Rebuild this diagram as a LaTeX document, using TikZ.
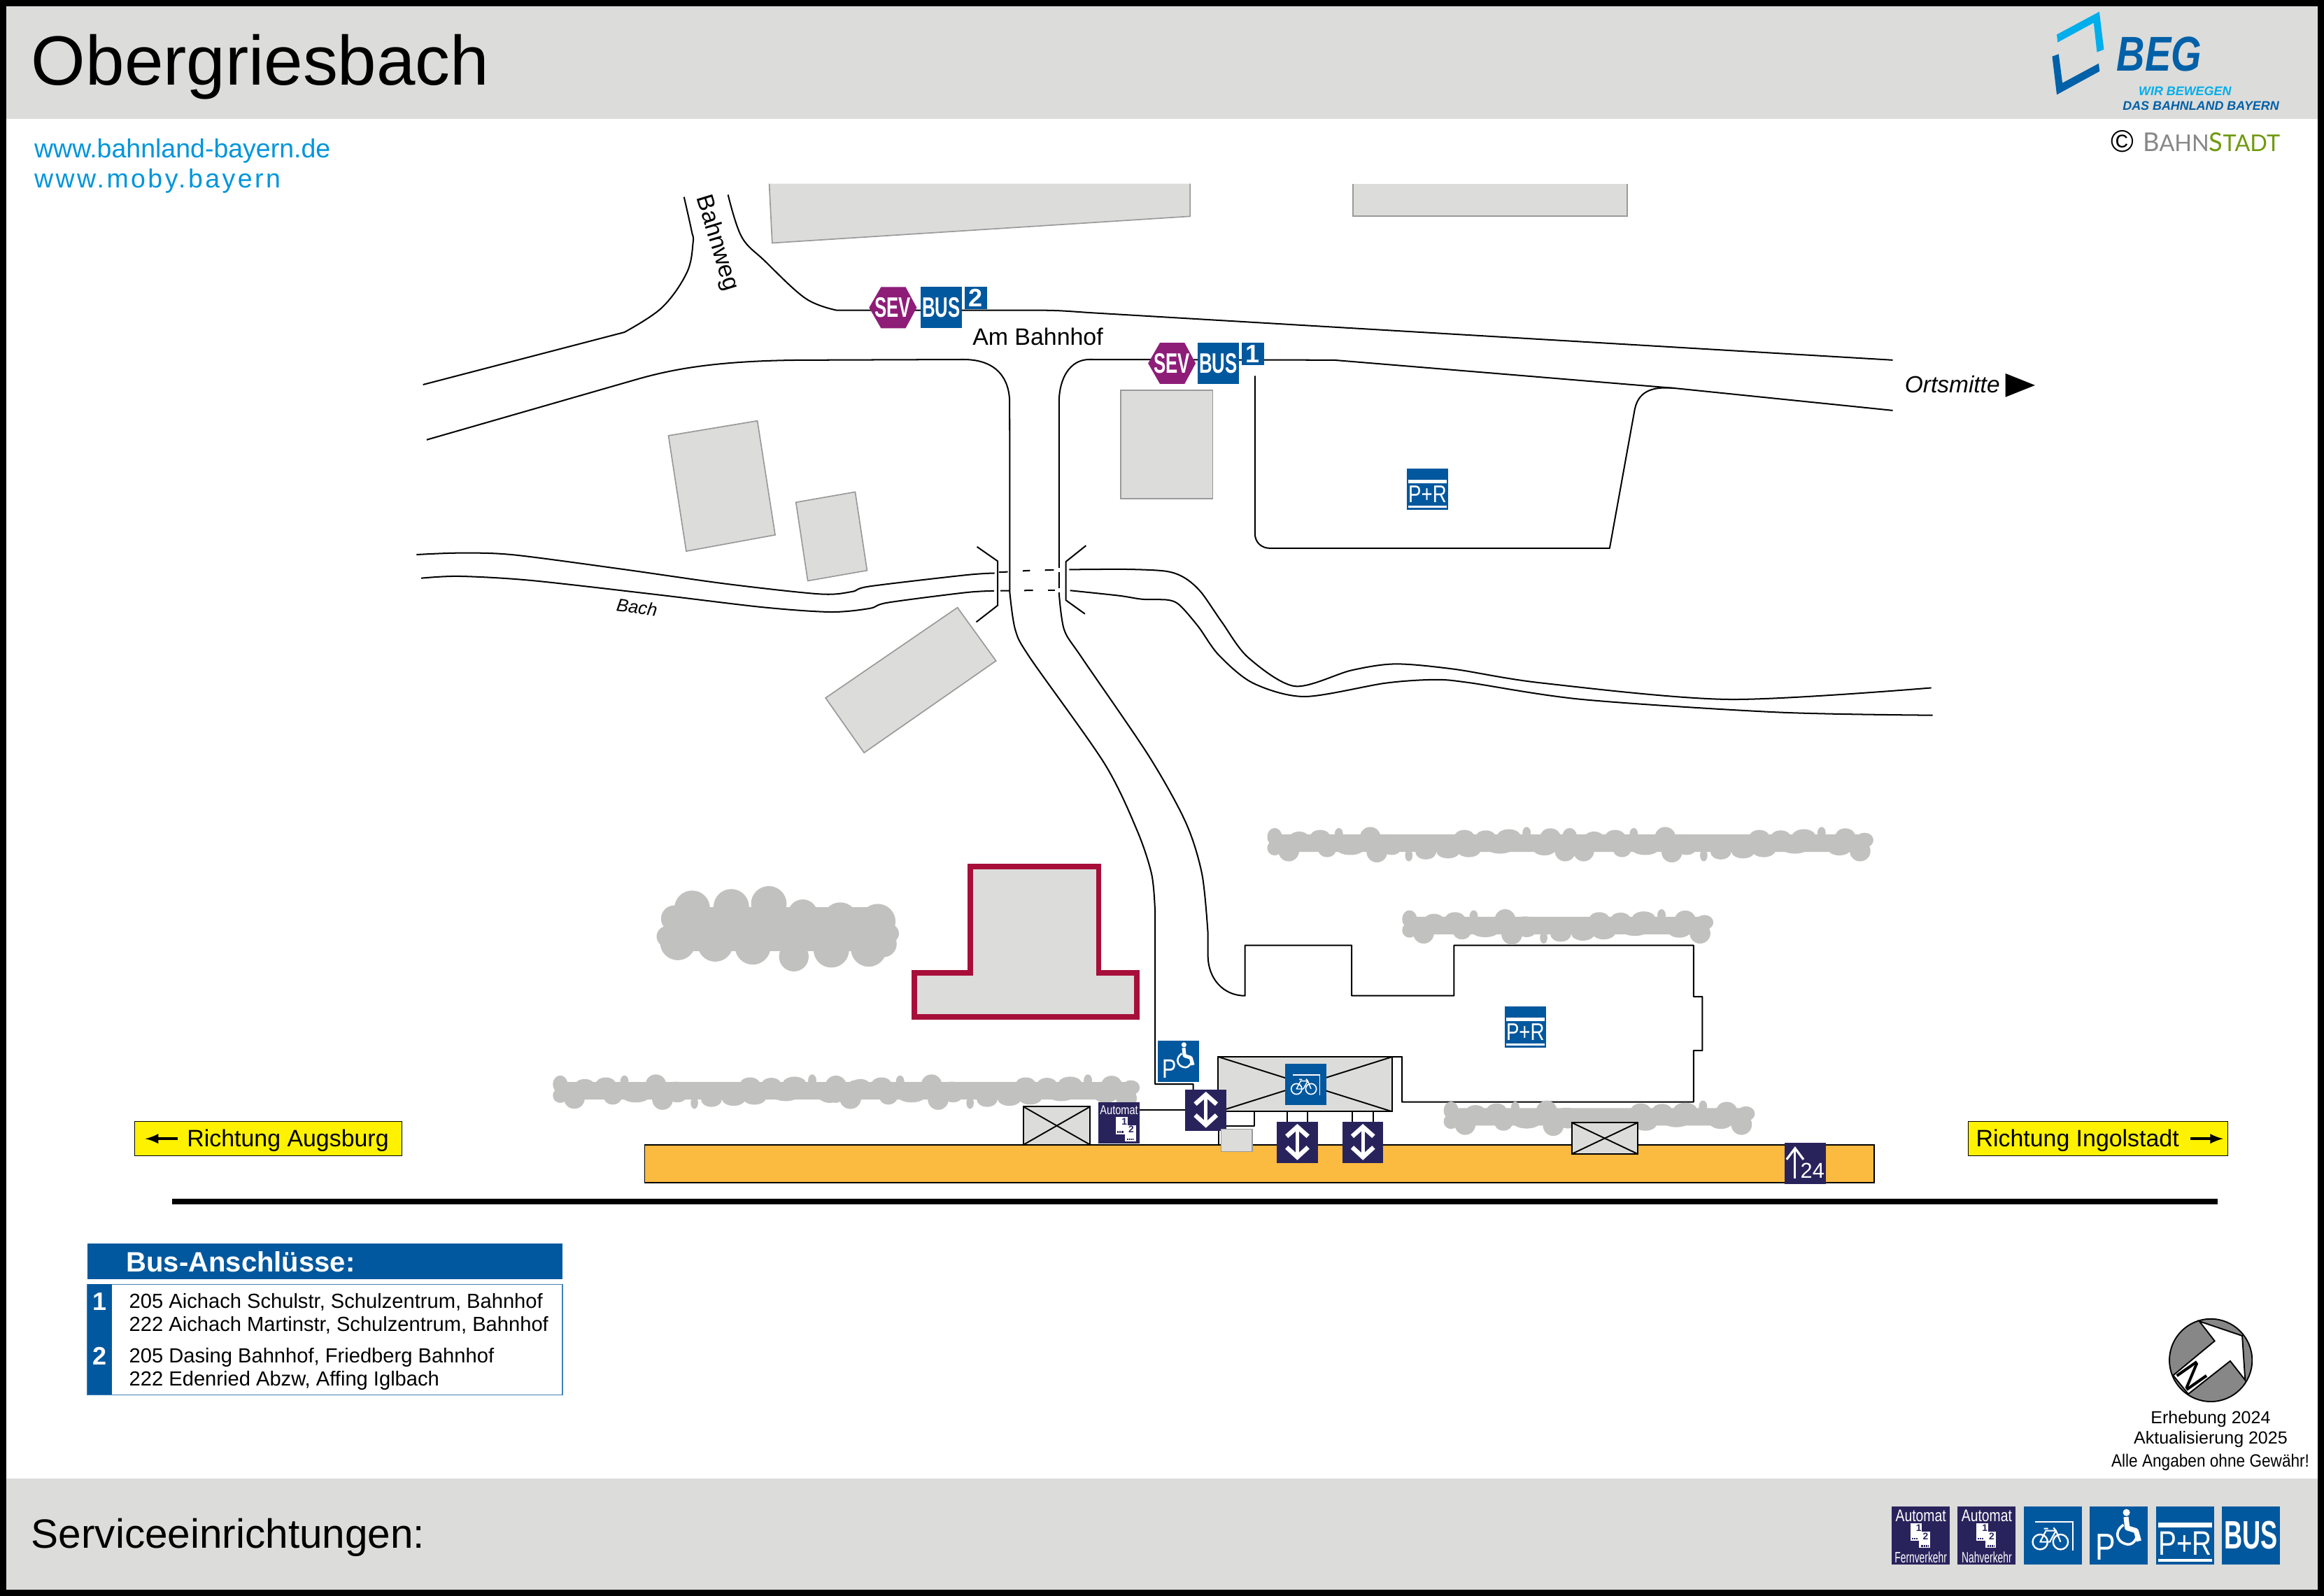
\documentclass[tikz,border=0pt]{standalone}
\usepackage{fontspec}
\setmainfont{Liberation Sans}
\newfontfamily\narrowfont[FakeStretch=.8]{Liberation Sans}
\newfontfamily\tightfont[FakeStretch=.89]{Liberation Sans}
\newfontfamily\slimfont[FakeStretch=.64]{Liberation Sans}
\newfontfamily\spacedfont[LetterSpace=9.2]{Liberation Sans}
\newfontfamily\stadtfont[FakeStretch=.98]{Lato}
\newcommand{\fsz}[1]{\fontsize{#1}{#1}\selectfont}
\newcommand{\glw}{1}

\definecolor{signblue}{HTML}{02589E}
\definecolor{signnavy}{HTML}{29235C}
\definecolor{sevpurple}{HTML}{8E1D78}
\definecolor{bandgray}{HTML}{DCDCDA}
\definecolor{edgegray}{HTML}{9A9A9A}
\definecolor{hedgegray}{HTML}{C1C1BF}
\definecolor{platform}{HTML}{FBBA40}
\definecolor{stationred}{HTML}{A70F3A}
\definecolor{linkblue}{HTML}{0095DB}
\definecolor{logolight}{HTML}{00AEEB}
\definecolor{logodark}{HTML}{0060A8}
\definecolor{stadtgreen}{HTML}{6F9A0F}
\definecolor{stadtgray}{HTML}{878787}

\tikzset{
    % Hecke, ein Stueck
    hedgeunit/.pic={
        \fill[hedgegray, rounded corners=3pt] (2,-6.8) rectangle (207,5);
        \fill[hedgegray] (5,-5.2) ellipse[x radius=5,y radius=6] (21.5,-3.8) ellipse[x radius=7,y radius=5]
            (35.7,-4.9) ellipse[x radius=7,y radius=5] (48.3,-7.2) ellipse[x radius=2.8,y radius=4]
            (69.5,-4.9) ellipse[x radius=7,y radius=7] (83,-3) ellipse[x radius=8,y radius=4]
            (133,-4.9) ellipse[x radius=7,y radius=5] (147.4,-4.6) ellipse[x radius=7,y radius=5]
            (163,-5.4) ellipse[x radius=8,y radius=5] (175,-7.9) ellipse[x radius=2.8,y radius=4]
            (191,-5) ellipse[x radius=7,y radius=6] (204,-3) ellipse[x radius=6,y radius=5]
            (5,2.3) ellipse[x radius=5,y radius=5] (14.5,4.3) ellipse[x radius=7,y radius=7]
            (40.4,3.5) ellipse[x radius=6,y radius=5] (56,3) ellipse[x radius=9,y radius=4]
            (74,5) ellipse[x radius=7,y radius=7] (84,3) ellipse[x radius=6,y radius=4]
            (95.5,7.3) ellipse[x radius=2.5,y radius=4] (107,5) ellipse[x radius=7,y radius=5]
            (122,4.3) ellipse[x radius=8,y radius=5] (136,3.5) ellipse[x radius=8,y radius=5]
            (157,2.1) ellipse[x radius=9,y radius=4] (172,.6) ellipse[x radius=7,y radius=4]
            (187,2.3) ellipse[x radius=8,y radius=5] (201,4.3) ellipse[x radius=7,y radius=7];
    },
    % Piktogramme, Ursprung oben links
    sevsign/.pic={
        \fill[sevpurple] (0,13.9) -- (8,0) -- (24.6,0) -- (32.1,13.9) -- (24.6,27.8) -- (8,27.8) -- cycle;
        \node[text=white, inner sep=0pt, font=\slimfont\bfseries\fsz{19}] (-label) at (16,14) {SEV};
    },
    liftglyph/.pic={
        \draw[white, line width=3pt] (6.8,9.8) -- (14,3.4) -- (21.2,9.8);
        \draw[white, line width=2.2pt] (14,3.4) -- (14,23.8);
        \draw[white, line width=3pt] (6.8,17.2) -- (14,23.8) -- (21.2,17.2);
    },
    ticketpair/.pic={
        \fill[white] (0,0) rectangle (8,11.6);
        \fill[white] (6,5.5) rectangle (13.5,16.5);
        \node[text=signnavy, inner sep=0pt, font=\bfseries\fsz{6.5}] (-one) at (5.8,3.2) {1};
        \node[text=signnavy, inner sep=0pt, font=\bfseries\fsz{6.5}] (-two) at (10.4,8.4) {2};
        \draw[signnavy, line width=1.1pt, dash pattern=on 1pt off .5pt] (1,10.2) -- (5,10.2);
        \draw[signnavy, line width=1.1pt, dash pattern=on 1pt off .5pt] (7.5,15.2) -- (12.3,15.2);
    },
    bikeglyph/.pic={
        \draw[white, line width=\glw*.7pt] (5.4,7.5) -- (23.4,7.5) -- (23.4,21.2);
        \draw[white, line width=\glw*.8pt] (7.8,17) circle[radius=3.6] (17.6,17) circle[radius=3.6];
        \draw[white, line width=\glw*.7pt, line join=round] (7.8,17) -- (10.6,11.6) -- (15.4,11.6) -- (12.4,17) -- cycle
            (15.4,11.6) -- (17.6,17) (9.6,10.6) -- (11.6,10.6) (14.2,10.2) -- (15.4,11.6);
    },
    wheelglyph/.pic={
        \node[text=white, inner sep=0pt, anchor=base west, transform shape, font=\narrowfont\fsz{18}] (-park) at (2.6,25.6) {P};
        \fill[white] (17.6,2.9) circle[radius=1.7];
        \draw[white, line width=\glw*2.4pt, line join=round] (17.4,5) -- (18,10.3) -- (22.2,11.6) -- (23.6,16.6);
        \draw[white, line width=\glw*1.2pt] plot[smooth, tension=.8] coordinates {(16.2,8.8) (13.7,11.6) (13.8,15.4) (17,17.9) (20.4,17.6) (22.4,15)};
    },
    prglyph/.pic={
        \fill[white] (1,7.8) rectangle (27,10);
        \fill[white] (1,25) rectangle (27,26.6);
        \node[text=white, inner sep=0pt, transform shape, font=\narrowfont\fsz{16.3}] (-label) at (14,17.6) {P+R};
    }
}

\begin{document}
\begin{tikzpicture}[x=1pt,y=-1pt]
    % Definizione stili
    \tikzstyle{building}=[draw=edgegray, fill=bandgray, line width=.8pt]
    \tikzstyle{road}=[line width=.95pt, line join=round]
    \tikzstyle{maptext}=[inner sep=0pt, anchor=base west]
    \tikzstyle{signbox}=[inner sep=0pt, outer sep=0pt, fill=signblue, minimum width=27.8pt, minimum height=27.8pt]
    \tikzstyle{busbox}=[signbox, text=white, font=\slimfont\bfseries\fsz{19}]
    \tikzstyle{numbox}=[inner sep=0pt, outer sep=0pt, fill=signblue, text=white, minimum width=15.3pt, minimum height=15.1pt, font=\bfseries\fsz{17}]
    \tikzstyle{navybox}=[signbox, fill=signnavy]
    \tikzstyle{crossbox}=[draw, fill=bandgray, line width=1pt, inner sep=0pt, outer sep=0pt, path picture={
        \draw[line width=.9pt] (path picture bounding box.north west) -- (path picture bounding box.south east);
        \draw[line width=.9pt] (path picture bounding box.south west) -- (path picture bounding box.north east);}]
    \tikzstyle{dirbox}=[draw, line width=.5pt, fill=yellow, inner sep=0pt, minimum height=23pt]

    \useasboundingbox (0,0) rectangle (1568,1077.1);

    % Baender oben und unten
    \fill[bandgray] (0,0) rectangle (1568,80);
    \fill[bandgray] (0,998) rectangle (1568,1077);
    \node[maptext, font=\fsz{47.1}] (title) at (21,57.5) {Obergriesbach};
    \node[maptext, font=\fsz{27.6}] (service_title) at (21,1045) {Serviceeinrichtungen:};
    \node[maptext, text=linkblue, font=\fsz{17.7}] (link_beg) at (23,106.5) {www.bahnland-bayern.de};
    \node[maptext, text=linkblue, font=\spacedfont\fsz{17.7}] (link_moby) at (23,126.5) {www.moby.bayern};

    % Logo
    \fill[logolight] (1387.7,23.3) -- (1416.4,7.9) -- (1419.5,33.4) -- (1414.8,35.2) -- (1412.6,15.4) -- (1388.3,28.6) -- cycle;
    \fill[logodark] (1384.6,38.1) -- (1389,36.5) -- (1391.5,56) -- (1416,42.8) -- (1416.6,48.1) -- (1387.7,63.9) -- cycle;
    \node[maptext, text=logodark, font=\narrowfont\bfseries\itshape\fsz{33}] (logo_beg) at (1428,47.7) {BEG};
    \node[maptext, text=logolight, font=\bfseries\itshape\fsz{8.45}] (logo_wir) at (1442.8,64.2) {WIR BEWEGEN};
    \node[maptext, text=logodark, font=\bfseries\itshape\fsz{8.45}] (logo_das) at (1432,74.3) {DAS BAHNLAND BAYERN};
    \node[inner sep=0pt, font=\fsz{21}] (copy_mark) at (1431.8,95.3) {©};
    \node[inner sep=0pt, anchor=base east, font=\stadtfont\fsz{15.6}] (logo_stadt) at (1538.5,102.3)
        {\textcolor{stadtgray}{{\fsz{17.5}B}AHN}\textcolor{stadtgreen}{{\fsz{17.5}S}TADT}};

    % Gebaeude
    \fill[bandgray] (519,124) -- (521,164) -- (803,146) -- (803,124) -- cycle;
    \draw[edgegray, line width=.8pt] (519,124) -- (521,164) -- (803,146) -- (803,124);
    \fill[bandgray] (913,124) -- (913,146) -- (1098,146) -- (1098,124) -- cycle;
    \draw[edgegray, line width=.8pt] (913,124) -- (913,146) -- (1098,146) -- (1098,124);
    \draw[building] (451,294) -- (511,284) -- (523,361) -- (463,372) -- cycle;
    \draw[building] (537,339) -- (577,332) -- (585,385) -- (545,392) -- cycle;
    \draw[building] (557,471) -- (646,410) -- (672,446) -- (583,508) -- cycle;
    \draw[building] (756,263.5) rectangle (818.2,336.4);
    \draw[stationred, fill=bandgray, line width=3.7pt, line join=miter] (616.9,656.7) -- (654.6,656.7) -- (654.6,584.7) -- (741.3,584.7) -- (741.3,656.7) -- (766.8,656.7) -- (766.8,686.4) -- (616.9,686.4) -- cycle;

    % Strassen
    \draw[road] plot[smooth, tension=.6] coordinates {(461.5,132.9) (466.6,155.7) (467.6,163.6) (463.4,184) (446.6,207.6) (421.3,224.2)} -- (285.4,259.6);
    \draw[road] plot[smooth, tension=.6] coordinates {(491.2,131.4) (500.3,159.7) (516.1,176.2) (543.5,201.4) (564.6,209.4)} -- (700,209.4) .. controls (715,209.4) and (720,210) .. (735,211) -- (1277,243);
    \draw[road] (287.9,296.8) -- (425.5,257.2) .. controls (450,250) and (480,243) .. (547.7,243) -- (650,242.6) .. controls (672,242.6) and (681.2,255) .. (681.2,272)
        -- (681.3,400) plot[smooth, tension=.5] coordinates {(681.3,400) (685,425) (695,444) (745,515) (767,560) (777,590) (779.3,615)} -- (779.3,731.6) -- (805,731.6) -- (805,735.4);
    \draw[road] (1277,277) -- (1130,262) -- (900,243) -- (735,242.6) .. controls (722,242.6) and (714.5,255) .. (714.5,272)
        -- (714.5,400) plot[smooth, tension=.5] coordinates {(714.5,400) (718,425) (730,444) (775,510) (800,555) (811,590) (815,630)} -- (815,645) .. controls (815,660) and (825,672) .. (840,672)
        -- (840,638) -- (912,638) -- (912,672) -- (981,672) -- (981,638) -- (1142.6,638) -- (1142.6,672.6) -- (1148.6,672.6) -- (1148.6,709) -- (1142.6,709) -- (1142.6,743.7) -- (945.9,743.7) -- (945.9,713.2) -- (939.4,713.2);
    \draw[road] (846.7,253.6) -- (846.7,360) .. controls (846.7,366) and (851,370) .. (857,370) -- (1086,370) -- (1103,276) .. controls (1106,262) and (1118,261) .. (1130,262);

    % Bach
    \draw[road] plot[smooth, tension=.5] coordinates {(281,374.3) (309.9,373.2) (346,374.4) (418.3,383.9) (490.5,394.1) (553.1,400.9) (574.8,399.3) (586.8,395.7) (651.4,388.1) (671,386.8)};
    \draw[road] plot[smooth, tension=.5] coordinates {(284.2,390.2) (309.9,388.9) (358.1,391.7) (442.4,401.2) (514.6,409.8) (560.4,413) (586.8,410.6) (598.9,406.7) (651.4,399.9) (670.6,398.8)};
    \draw[road] plot[smooth, tension=.5] coordinates {(721.4,384.4) (760,384.2) (786.7,385.5) (799.3,390) (810.3,399.6) (824.5,420) (842.1,443.7) (873.6,463.1) (911.7,452.4) (941.5,448.1) (981.2,451.6) (1040.8,461) (1166.6,472) (1303,464.2)};
    \draw[road] plot[smooth, tension=.5] coordinates {(722,398.5) (755,402) (770.7,404.4) (788,404.9) (796,408.5) (808.6,423) (822.3,442.1) (845.4,461) (880.2,470.1) (934.8,461) (968,458.7) (991.1,460.7) (1067.3,472) (1199.7,480.7) (1304,482.7)};
    \draw[road] (674,386.2) -- (680,385.9);
    \draw[road] (690,385.3) -- (695,385);
    \draw[road] (705,384.8) -- (711,384.6);
    \draw[road] (675,398.7) -- (681,398.6);
    \draw[road] (691,398.5) -- (697,398.4);
    \draw[road] (707,398.3) -- (712,398.3);
    \draw[white, line width=1.6pt] (714.5,383.3) -- (714.5,386);
    \draw[white, line width=1.6pt] (714.5,397) -- (714.5,400);
    \draw[road] (659.2,369) -- (673.1,378.7) -- (673.1,408.6) -- (658.7,419.8);
    \draw[road] (732.7,368.2) -- (719.2,379) -- (719.2,405.1) -- (732,414.3);

    % Hecken
    \pic at (855,570) {hedgeunit};
    \pic at (1054,570) {hedgeunit};
    \pic at (946,625.5) {hedgeunit};
    \pic at (373,737) {hedgeunit};
    \pic at (559,737) {hedgeunit};
    \pic at (974,754.6) {hedgeunit};
    \fill[hedgegray] (455,612) rectangle (597,642);
    \fill[hedgegray] (467,613) circle[radius=12] (493.4,612) circle[radius=12] (518.7,610) circle[radius=12]
        (541.6,617) circle[radius=10] (566.9,621) circle[radius=12] (592.2,622) circle[radius=12]
        (457.3,636) circle[radius=12] (482.6,637) circle[radius=12] (507.9,639) circle[radius=12]
        (535.6,645.6) circle[radius=10] (560.9,641) circle[radius=12] (586.1,640.4) circle[radius=12]
        (450,632) circle[radius=7] (455,620) circle[radius=9] (600,630) circle[radius=6.5] (596,637) circle[radius=9];

    % Bahnsteig und Gleis
    \draw[fill=platform, line width=.8pt] (435,772.5) rectangle (1264.6,798);
    \draw[line width=3.8pt] (116,810.7) -- (1496,810.7);
    \node[crossbox, minimum width=44.8pt, minimum height=25.6pt] (shelter_a) at (713,759.7) {};
    \node[crossbox, minimum width=44.6pt, minimum height=21.2pt] (shelter_b) at (1082.7,768.2) {};
    \node[crossbox, minimum width=117.5pt, minimum height=37pt] (under_box) at (880.65,731.7) {};

    % Zugaenge und Schilder
    \node[navybox] (lift_a) at (813.5,749.25) {};
    \node[navybox] (lift_b) at (875.2,771) {};
    \node[navybox] (lift_c) at (919.45,771) {};
    \pic at (lift_a.north west) {liftglyph};
    \pic at (lift_b.north west) {liftglyph};
    \pic at (lift_c.north west) {liftglyph};
    \node[navybox] (ticket_map) at (755,757.9) {};
    \node[maptext, anchor=center, text=white, font=\narrowfont\fsz{8.6}] (ticket_map_text) at (755,749) {Automat};
    \pic at (752.8,753.8) {ticketpair};
    \draw[road] (lift_a.west) -- (lift_a.west -| ticket_map.east);
    \draw[road] ([xshift=-6.9pt]lift_b.north) -- ([xshift=-6.9pt]lift_b.north |- under_box.south);
    \draw[road] ([xshift=6.9pt]lift_b.north) -- ([xshift=6.9pt]lift_b.north |- under_box.south);
    \draw[road] ([xshift=-6.9pt]lift_c.north) -- ([xshift=-6.9pt]lift_c.north |- under_box.south);
    \draw[road] ([xshift=6.9pt]lift_c.north) -- ([xshift=6.9pt]lift_c.north |- under_box.south);
    \draw[building] (823.9,762) rectangle (845,777.1);
    \coordinate (ramp_top) at (846.2,750.2);
    \coordinate (ramp_end) at (827.5,760);
    \draw[road] (ramp_top) |- (ramp_end);
    \coordinate (stair_foot) at (822,772.5);
    \draw[road] (stair_foot) -- (stair_foot |- lift_a.south);

    \node[signbox] (bike_map) at (880.85,731.8) {};
    \pic at (bike_map.north west) {bikeglyph};
    \node[signbox] (wheel_map) at (795.1,716.1) {};
    \pic at (wheel_map.north west) {wheelglyph};
    \node[signbox] (park_a) at (963,330) {};
    \pic at (park_a.north west) {prglyph};
    \node[signbox] (park_b) at (1029,693) {};
    \pic at (park_b.north west) {prglyph};
    \node[navybox] (stair_sign) at (1217.9,785.35) {};
    \coordinate (stair_foot_a) at (1211.1,795.4);
    \coordinate (stair_tip_a) at (1211.1,774.9);
    \draw[white, line width=1.5pt] (stair_foot_a) -- (stair_tip_a);
    \draw[white, line width=1.5pt] (1205.4,782.5) -- (stair_tip_a) -- (1216.8,782.5);
    \node[maptext, text=white, font=\fsz{14.5}] (stair_num) at (1214.6,794.9) {24};

    % Haltestellen
    \pic at (586.4,193.7) {sevsign};
    \node[busbox] (bus_2) at (635.1,207.6) {BUS};
    \node[numbox] (no_2) at (658.35,201.25) {2};
    \pic at (774.6,231.3) {sevsign};
    \node[busbox] (bus_1) at (822,245.2) {BUS};
    \node[numbox] (no_1) at (845.35,238.85) {1};

    % Beschriftungen
    \node[maptext, font=\fsz{16}] (street_ab) at (656,233) {Am Bahnhof};
    \node[inner sep=0pt, rotate=-73, font=\fsz{16}] (street_bw) at (483.6,164) {Bahnweg};
    \node[inner sep=0pt, rotate=-8, font=\itshape\fsz{12.1}] (creek) at (429.8,409.8) {Bach};
    \node[maptext, font=\itshape\fsz{15.8}] (ortsmitte) at (1285,265) {Ortsmitte};
    \fill (1353,252) -- (1373,260) -- (1353,268) -- cycle;

    % Richtungen
    \node[dirbox, minimum width=180pt] (dir_aug) at (181,768.5) {};
    \node[maptext, font=\fsz{16}] (dir_aug_text) at (126,774) {Richtung Augsburg};
    \coordinate (aug_tail) at (120,768.5);
    \coordinate (aug_tip) at (98,768.5);
    \draw[-latex, line width=2pt] (aug_tail) -- (aug_tip);
    \node[dirbox, minimum width=175pt] (dir_ing) at (1415.5,768.5) {};
    \node[maptext, font=\fsz{16}] (dir_ing_text) at (1333,774) {Richtung Ingolstadt};
    \coordinate (ing_tail) at (1478,768.5);
    \coordinate (ing_tip) at (1500,768.5);
    \draw[-latex, line width=2pt] (ing_tail) -- (ing_tip);

    % Bus-Anschluesse
    \node[fill=signblue, inner sep=0pt, minimum width=320.7pt, minimum height=24.2pt] (bus_head) at (219.15,851.3) {};
    \node[maptext, text=white, font=\bfseries\fsz{18.9}] (bus_head_text) at (85,858.3) {Bus-Anschlüsse:};
    \node[draw=signblue!75, line width=.5pt, inner sep=0pt, minimum width=320.7pt, minimum height=74.7pt] (bus_body) at (219.15,904) {};
    \node[fill=signblue, inner sep=0pt, minimum width=16.7pt, minimum height=74.7pt] (bus_col) at (67.15,904) {};
    \node[inner sep=0pt, anchor=base, text=white, font=\bfseries\fsz{17}] (row_1) at (67.4,884.5) {1};
    \node[inner sep=0pt, anchor=base, text=white, font=\bfseries\fsz{17}] (row_2) at (67.4,921) {2};
    \node[maptext, font=\fsz{13.75}] (line_1a) at (87,883) {205 Aichach Schulstr, Schulzentrum, Bahnhof};
    \node[maptext, font=\fsz{13.75}] (line_1b) at (87,898.4) {222 Aichach Martinstr, Schulzentrum, Bahnhof};
    \node[maptext, font=\fsz{13.75}] (line_2a) at (87,919.8) {205 Dasing Bahnhof, Friedberg Bahnhof};
    \node[maptext, font=\fsz{13.75}] (line_2b) at (87,935.2) {222 Edenried Abzw, Affing Iglbach};

    % Nordpfeil
    \node[circle, draw, fill=stadtgray, line width=.9pt, inner sep=0pt, minimum size=55.8pt] (compass) at (1491.6,918) {};
    \draw[fill=white, line width=.9pt] (1483.9,891.7) -- (1512.8,901.5) -- (1514.8,931.4) -- (1504.7,918.5) -- (1476.4,940.8) -- (1466.2,928.2) -- (1494.2,905) -- cycle;
    \node[inner sep=0pt, rotate=-55, font=\fsz{24}] (compass_n) at (1479,928.5) {N};
    \node[inner sep=0pt, anchor=base, font=\fsz{11.8}] (survey) at (1491.5,960.8) {Erhebung 2024};
    \node[inner sep=0pt, anchor=base, font=\fsz{11.8}] (update) at (1491.5,974.3) {Aktualisierung 2025};
    \node[inner sep=0pt, anchor=base east, font=\tightfont\fsz{12}] (disclaimer) at (1558.3,989.9) {Alle Angaben ohne Gewähr!};

    % Legende
    \renewcommand{\glw}{1.406}
    \node[navybox, minimum width=39.2pt, minimum height=39pt] (leg_far) at (1295.95,1036.2) {};
    \node[inner sep=0pt, text=white, font=\narrowfont\fsz{11.4}] (leg_far_top) at (leg_far.north |- 0,1023) {Automat};
    \pic at (1288.8,1028.2) {ticketpair};
    \node[inner sep=0pt, text=white, font=\slimfont\fsz{10.2}] (leg_far_bot) at (leg_far.north |- 0,1051) {Fernverkehr};
    \node[navybox, minimum width=39.2pt, minimum height=39pt] (leg_near) at (1340.45,1036.2) {};
    \node[inner sep=0pt, text=white, font=\narrowfont\fsz{11.4}] (leg_near_top) at (leg_near.north |- 0,1023) {Automat};
    \pic at (1333.3,1028.2) {ticketpair};
    \node[inner sep=0pt, text=white, font=\slimfont\fsz{10.2}] (leg_near_bot) at (leg_near.north |- 0,1051) {Nahverkehr};
    \node[signbox, minimum width=39.1pt, minimum height=39pt] (leg_bike) at (1385.05,1036.2) {};
    \pic[scale=1.406] at (leg_bike.north west) {bikeglyph};
    \node[signbox, minimum width=39.1pt, minimum height=39pt] (leg_wheel) at (1429.5,1036.2) {};
    \pic[scale=1.406] at (leg_wheel.north west) {wheelglyph};
    \node[signbox, minimum width=39.1pt, minimum height=39pt] (leg_park) at (1474.15,1036.2) {};
    \pic[scale=1.406] at (leg_park.north west) {prglyph};
    \node[busbox, scale=1.406] (leg_bus) at (1518.8,1036.2) {BUS};

    % Rahmen
    \draw[line width=4.2pt] (2.1,2.1) rectangle (1565.9,1075);
\end{tikzpicture}
\end{document}
